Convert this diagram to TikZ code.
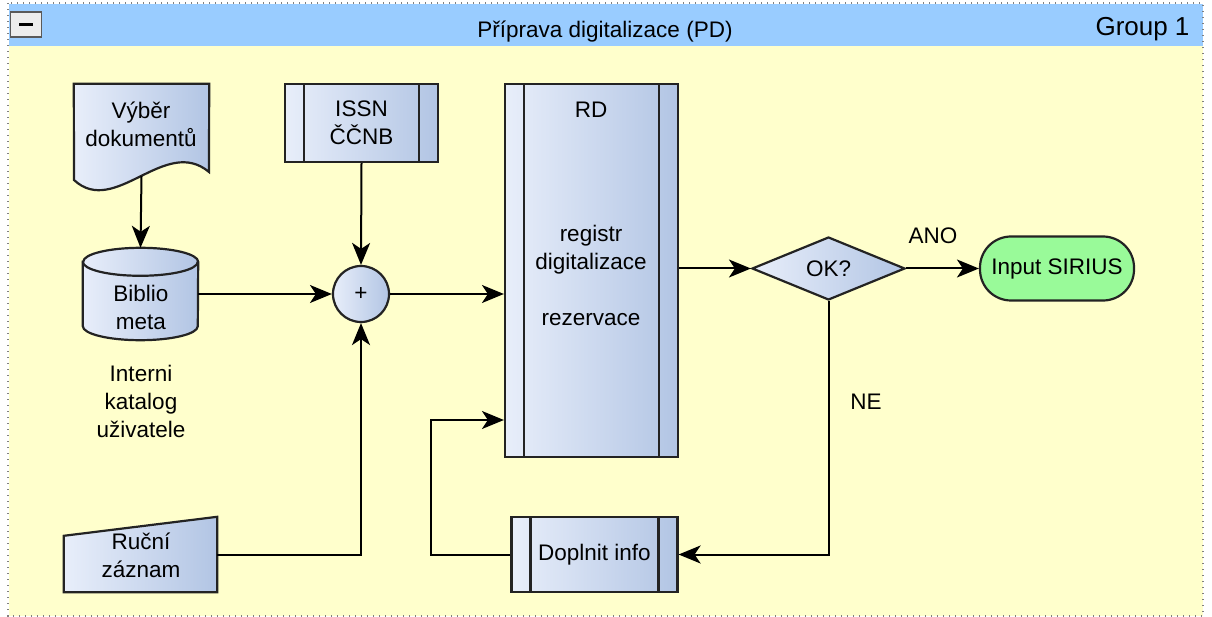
\documentclass[tikz,border=0pt]{standalone}
\usepackage{fontspec}
\setmainfont{Liberation Sans}
\usetikzlibrary{shapes.geometric,arrows.meta}
\definecolor{bgyellow}{RGB}{255,255,204}
\definecolor{hdrblue}{RGB}{153,204,255}
\definecolor{boxlt}{RGB}{232,238,250}
\definecolor{boxdk}{RGB}{178,197,228}
\definecolor{termgreen}{RGB}{153,250,153}
\definecolor{linec}{RGB}{35,35,35}
\tikzset{
  txt/.style={font=\fontsize{22.5}{28}\selectfont, align=center},
  arr/.style={-{Stealth[length=22pt,width=18pt,inset=6pt]}, line width=2pt},
  boxfill/.style={draw=linec, line width=2.2pt, left color=boxlt, right color=boxdk},
  subproc/.style={boxfill, txt, inner sep=0pt, path picture={
      \draw[linec, line width=2.2pt] ([xshift=19pt]path picture bounding box.north west) -- ([xshift=19pt]path picture bounding box.south west);
      \draw[linec, line width=2.2pt] ([xshift=-19pt]path picture bounding box.north east) -- ([xshift=-19pt]path picture bounding box.south east);}},
}
\begin{document}
\begin{tikzpicture}[x=1pt, y=-1pt]
  \useasboundingbox (0,0) rectangle (1212,617);
  % group frame
  \fill[bgyellow] (9,46) rectangle (1203,616);
  \fill[hdrblue] (9,4) rectangle (1203,46);
  \draw[gray, line width=1.2pt, dash pattern=on 1.2pt off 4.8pt] (8,3) rectangle (1203,616);
  \node[draw=gray!70!black, line width=1.8pt, fill=gray!15, minimum width=31, minimum height=25, inner sep=0pt] (minus) at (26,24.5) {};
  \draw[line width=3.5pt] ([xshift=-7pt]minus.center) -- ([xshift=7pt]minus.center);
  \node[txt, anchor=base] (title) at (605,38) {Příprava digitalizace (PD)};
  \node[font=\fontsize{26}{30}\selectfont, anchor=base east] (grp) at (1193,36) {Group 1};

  % inputs
  \node[minimum width=135, minimum height=92, inner sep=0pt] (doc) at (141.5,130) {};
  \path[boxfill] (doc.north west) -- (doc.north east) -- (209,172)
    .. controls (165,135) and (115,218) .. (74,180) -- cycle;
  \node[txt] (doctxt) at (141,124) {Výběr\\dokumentů};

  \node[minimum width=115, minimum height=92, inner sep=0pt] (biblio) at (140.5,294) {};
  \path[boxfill] ([yshift=-14pt]biblio.north west) -- ([yshift=14pt]biblio.south west)
    arc[start angle=180, end angle=360, x radius=57.5pt, y radius=14pt]
    -- ([yshift=-14pt]biblio.north east)
    arc[start angle=0, end angle=180, x radius=57.5pt, y radius=14pt] -- cycle;
  \draw[linec, line width=2.2pt] ([yshift=-14pt]biblio.north west)
    arc[start angle=180, end angle=360, x radius=57.5pt, y radius=14pt];
  \node[txt] (bibliotxt) at (141,307) {Biblio\\meta};
  \node[txt] (katalog) at (141,401) {Interni\\katalog\\uživatele};

  \node[minimum width=153, minimum height=75, inner sep=0pt] (rucni) at (140.5,554.5) {};
  \path[boxfill] (rucni.south west) -- (rucni.south east) -- (rucni.north east)
    -- ([yshift=-19pt]rucni.north west) -- cycle;
  \node[txt] (rucnitxt) at (141,555) {Ruční\\záznam};

  \node[subproc, minimum width=153, minimum height=78] (issn) at (361.5,123) {ISSN\\ČČNB};
  \node[boxfill, circle, minimum size=56, inner sep=0pt, txt] (plus) at (361,294) {+};

  % register and decision
  \node[subproc, minimum width=173, minimum height=373] (rd) at (591.5,270.5) {};
  \node[txt] (rdname) at (591,110) {RD};
  \node[txt] (rdtext) at (591,275) {registr\\digitalizace\\[28pt]rezervace};
  \node[boxfill, diamond, minimum width=153, minimum height=63, aspect=2.4, inner sep=0pt, txt] (ok) at (828.5,268.5) {OK?};
  \node[draw=linec, line width=2.2pt, fill=termgreen, rounded corners=31pt, minimum width=154, minimum height=64, inner sep=0pt, txt] (sirius) at (1057,268.5) {Input SIRIUS};
  \node[subproc, minimum width=166, minimum height=75] (doplnit) at (594.5,554.5) {Doplnit info};
  \node[txt] (ano) at (933,236) {ANO};
  \node[txt] (ne) at (866,402) {NE};
  \coordinate (loop) at (431,420);

  \draw[arr] (doc.south) -- (biblio.north);
  \draw[arr] (issn.south) -- (plus.north);
  \draw[arr] (biblio.east) -- (plus.west);
  \draw[arr] (rucni.east) -| (plus.south);
  \draw[arr] (plus.east) -- (plus.east -| rd.west);
  \draw[arr] (rd.east |- ok.west) -- (ok.west);
  \path[arr] (ok) edge (sirius);
  \draw[arr] (ok.south) |- (doplnit.east);
  \draw[arr] (doplnit.west) -| (loop) -- (loop -| rd.west);
\end{tikzpicture}
\end{document}
